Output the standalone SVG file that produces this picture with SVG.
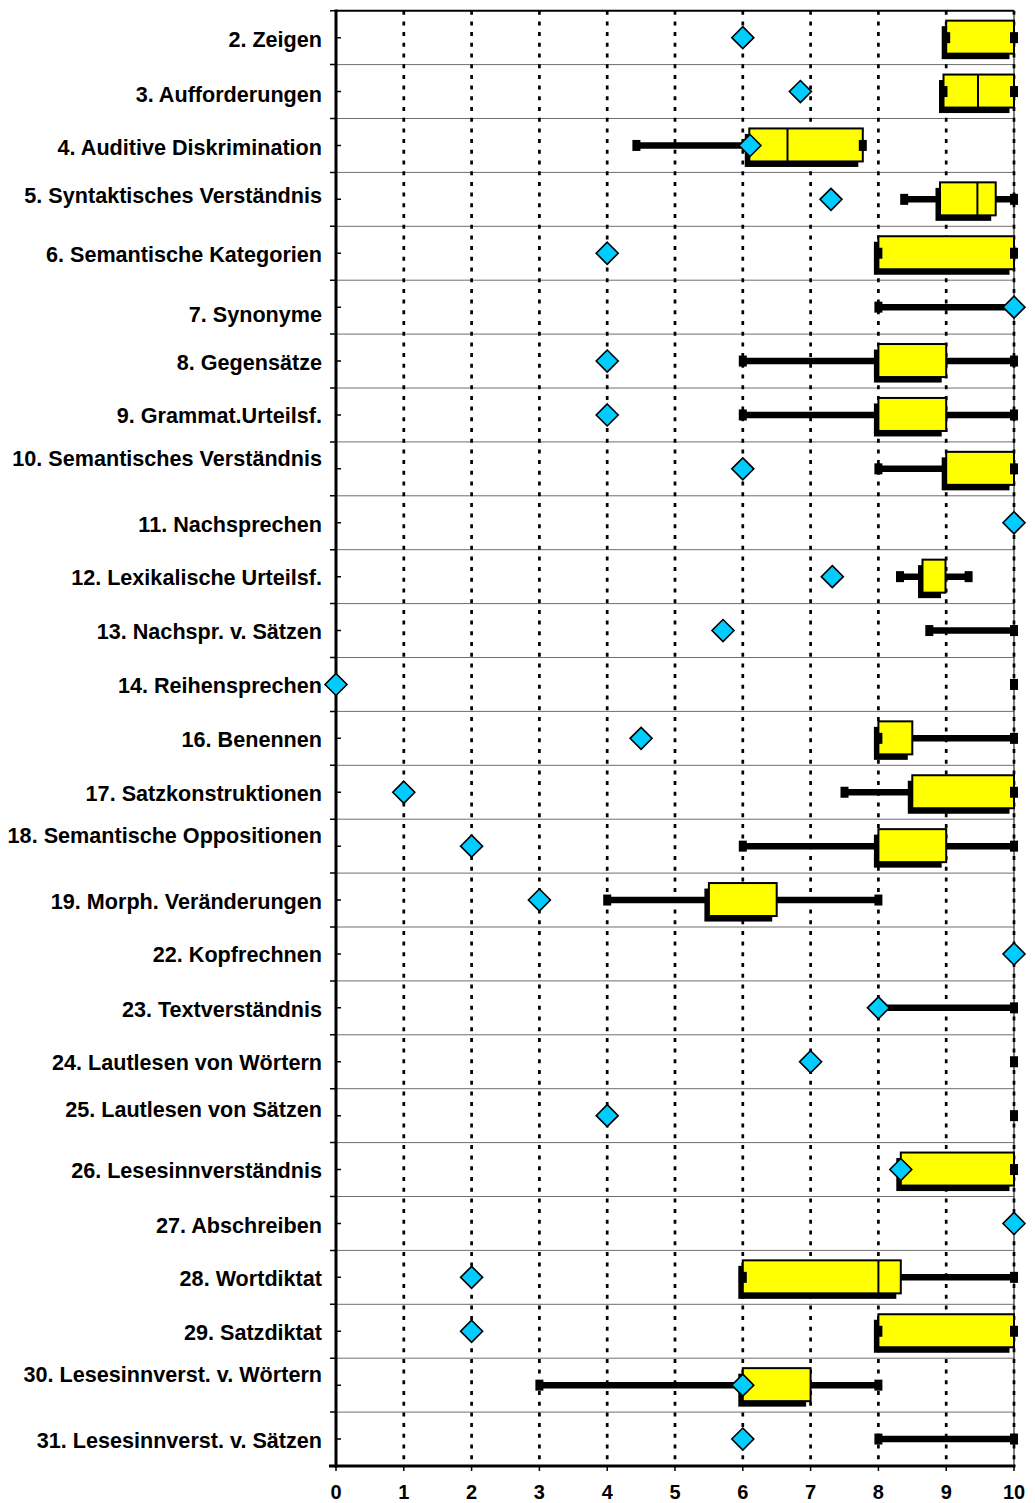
<svg xmlns="http://www.w3.org/2000/svg" xmlns:xlink="http://www.w3.org/1999/xlink" width="1035" height="1503" viewBox="0 0 1035 1503">
<style>
.lbl{font-family:"Liberation Sans",Arial,Helvetica,sans-serif;font-weight:bold;font-size:21.6px;text-anchor:end;fill:#000}
.num{font-family:"Liberation Sans",Arial,Helvetica,sans-serif;font-weight:bold;font-size:20px;text-anchor:middle;fill:#000}
.box{fill:#FFFF00;stroke:#000;stroke-width:2}
.sh{fill:#000}
.wh{stroke:#000;stroke-width:6.5;fill:none}
.med{stroke:#000;stroke-width:2}
.grid{stroke:#000;stroke-width:2.7;stroke-dasharray:4 6.7;fill:none}
.rowline{stroke:#6e6e6e;stroke-width:1}
.axis{stroke:#000;stroke-width:3}
.tick{stroke:#000;stroke-width:1.5}
</style>
<defs>
<path id="dia" d="M0,-11 L11,0 L0,11 L-11,0 Z" fill="#00CCFF" stroke="#000" stroke-width="1.6"/>
<rect id="cap" x="-4" y="-5.5" width="8" height="11" fill="#000"/>
</defs>
<rect x="0" y="0" width="1035" height="1503" fill="#fff"/>

<g id="frame">
<g id="rowlines">
<line class="rowline" x1="336" y1="64.6" x2="1014" y2="64.6"/>
<line class="rowline" x1="336" y1="118.5" x2="1014" y2="118.5"/>
<line class="rowline" x1="336" y1="172.4" x2="1014" y2="172.4"/>
<line class="rowline" x1="336" y1="226.3" x2="1014" y2="226.3"/>
<line class="rowline" x1="336" y1="280.2" x2="1014" y2="280.2"/>
<line class="rowline" x1="336" y1="334.1" x2="1014" y2="334.1"/>
<line class="rowline" x1="336" y1="388" x2="1014" y2="388"/>
<line class="rowline" x1="336" y1="441.9" x2="1014" y2="441.9"/>
<line class="rowline" x1="336" y1="495.8" x2="1014" y2="495.8"/>
<line class="rowline" x1="336" y1="549.7" x2="1014" y2="549.7"/>
<line class="rowline" x1="336" y1="603.6" x2="1014" y2="603.6"/>
<line class="rowline" x1="336" y1="657.5" x2="1014" y2="657.5"/>
<line class="rowline" x1="336" y1="711.4" x2="1014" y2="711.4"/>
<line class="rowline" x1="336" y1="765.3" x2="1014" y2="765.3"/>
<line class="rowline" x1="336" y1="819.2" x2="1014" y2="819.2"/>
<line class="rowline" x1="336" y1="873.1" x2="1014" y2="873.1"/>
<line class="rowline" x1="336" y1="927" x2="1014" y2="927"/>
<line class="rowline" x1="336" y1="980.9" x2="1014" y2="980.9"/>
<line class="rowline" x1="336" y1="1034.8" x2="1014" y2="1034.8"/>
<line class="rowline" x1="336" y1="1088.7" x2="1014" y2="1088.7"/>
<line class="rowline" x1="336" y1="1142.6" x2="1014" y2="1142.6"/>
<line class="rowline" x1="336" y1="1196.5" x2="1014" y2="1196.5"/>
<line class="rowline" x1="336" y1="1250.4" x2="1014" y2="1250.4"/>
<line class="rowline" x1="336" y1="1304.3" x2="1014" y2="1304.3"/>
<line class="rowline" x1="336" y1="1358.2" x2="1014" y2="1358.2"/>
<line class="rowline" x1="336" y1="1412.1" x2="1014" y2="1412.1"/>
</g>
<line x1="1014" y1="10.7" x2="1014" y2="1466" stroke="#000" stroke-width="1"/>
<g id="grid">
<line class="grid" x1="403.8" y1="10.7" x2="403.8" y2="1466"/>
<line class="grid" x1="471.6" y1="10.7" x2="471.6" y2="1466"/>
<line class="grid" x1="539.4" y1="10.7" x2="539.4" y2="1466"/>
<line class="grid" x1="607.2" y1="10.7" x2="607.2" y2="1466"/>
<line class="grid" x1="675" y1="10.7" x2="675" y2="1466"/>
<line class="grid" x1="742.8" y1="10.7" x2="742.8" y2="1466"/>
<line class="grid" x1="810.6" y1="10.7" x2="810.6" y2="1466"/>
<line class="grid" x1="878.4" y1="10.7" x2="878.4" y2="1466"/>
<line class="grid" x1="946.2" y1="10.7" x2="946.2" y2="1466"/>
<line class="grid" x1="1014" y1="10.7" x2="1014" y2="1466"/>
</g>
<line x1="336" y1="10.7" x2="1014" y2="10.7" stroke="#000" stroke-width="2"/>
<line class="axis" x1="336" y1="9.5" x2="336" y2="1467.5"/>
<line class="axis" x1="329" y1="1466" x2="1015.5" y2="1466"/>
<g id="yticks">
<path class="tick" d="M330,10.7H336M330,64.6H336M330,118.5H336M330,172.4H336M330,226.3H336M330,280.2H336M330,334.1H336M330,388H336M330,441.9H336M330,495.8H336M330,549.7H336M330,603.6H336M330,657.5H336M330,711.4H336M330,765.3H336M330,819.2H336M330,873.1H336M330,927H336M330,980.9H336M330,1034.8H336M330,1088.7H336M330,1142.6H336M330,1196.5H336M330,1250.4H336M330,1304.3H336M330,1358.2H336M330,1412.1H336"/>
<path class="tick" d="M336,37.65H341M336,91.55H341M336,145.45H341M336,199.35H341M336,253.25H341M336,307.15H341M336,361.05H341M336,414.95H341M336,468.85H341M336,522.75H341M336,576.65H341M336,630.55H341M336,684.45H341M336,738.35H341M336,792.25H341M336,846.15H341M336,900.05H341M336,953.95H341M336,1007.85H341M336,1061.75H341M336,1115.65H341M336,1169.55H341M336,1223.45H341M336,1277.35H341M336,1331.25H341M336,1385.15H341M336,1439.05H341"/>
</g>
<g id="xticks">
<path class="tick" stroke-width="2" d="M336,1466V1471M403.8,1466V1471M471.6,1466V1471M539.4,1466V1471M607.2,1466V1471M675,1466V1471M742.8,1466V1471M810.6,1466V1471M878.4,1466V1471M946.2,1466V1471M1014,1466V1471"/>
</g>
<g id="xlabels">
<text class="num" x="336" y="1499">0</text>
<text class="num" x="403.8" y="1499">1</text>
<text class="num" x="471.6" y="1499">2</text>
<text class="num" x="539.4" y="1499">3</text>
<text class="num" x="607.2" y="1499">4</text>
<text class="num" x="675" y="1499">5</text>
<text class="num" x="742.8" y="1499">6</text>
<text class="num" x="810.6" y="1499">7</text>
<text class="num" x="878.4" y="1499">8</text>
<text class="num" x="946.2" y="1499">9</text>
<text class="num" x="1014" y="1499">10</text>
</g>
</g>

<g id="row-02" transform="translate(0,37.65)">
<text class="lbl" x="322" y="9">2. Zeigen</text>
<rect class="sh" x="941.7" y="-11.5" width="67.8" height="33"/>
<rect class="box" x="946.2" y="-17" width="67.8" height="33"/>
<use xlink:href="#cap" x="946.2"/><use xlink:href="#cap" x="1014"/>
<use xlink:href="#dia" x="742.8"/>
</g>
<g id="row-03" transform="translate(0,91.55)">
<text class="lbl" x="322" y="10">3. Aufforderungen</text>
<rect class="sh" x="939" y="-11.5" width="70.5" height="33"/>
<rect class="box" x="943.5" y="-17" width="70.5" height="33"/>
<line class="med" x1="978" y1="-17" x2="978" y2="16"/>
<use xlink:href="#cap" x="943.5"/><use xlink:href="#cap" x="1014"/>
<use xlink:href="#dia" x="800.4"/>
</g>
<g id="row-04" transform="translate(0,145.45)">
<text class="lbl" x="322" y="9.5">4. Auditive Diskrimination</text>
<rect class="sh" x="744.8" y="-11.5" width="113.5" height="33"/>
<line class="wh" x1="636.4" y1="0" x2="862.8" y2="0"/>
<rect class="box" x="749.3" y="-17" width="113.5" height="33"/>
<line class="med" x1="787.5" y1="-17" x2="787.5" y2="16"/>
<use xlink:href="#cap" x="636.4"/><use xlink:href="#cap" x="862.8"/>
<use xlink:href="#dia" x="750"/>
</g>
<g id="row-05" transform="translate(0,199.35)">
<text class="lbl" x="322" y="4">5. Syntaktisches Verständnis</text>
<rect class="sh" x="935.5" y="-11.5" width="55.7" height="33"/>
<line class="wh" x1="904.2" y1="0" x2="1014" y2="0"/>
<rect class="box" x="940" y="-17" width="55.7" height="33"/>
<line class="med" x1="977.4" y1="-17" x2="977.4" y2="16"/>
<use xlink:href="#cap" x="904.2"/><use xlink:href="#cap" x="1014"/>
<use xlink:href="#dia" x="831"/>
</g>
<g id="row-06" transform="translate(0,253.25)">
<text class="lbl" x="322" y="9">6. Semantische Kategorien</text>
<rect class="sh" x="873.9" y="-11.5" width="135.6" height="33"/>
<rect class="box" x="878.4" y="-17" width="135.6" height="33"/>
<use xlink:href="#cap" x="878.4"/><use xlink:href="#cap" x="1014"/>
<use xlink:href="#dia" x="607.2"/>
</g>
<g id="row-07" transform="translate(0,307.15)">
<text class="lbl" x="322" y="14.5">7. Synonyme</text>
<line class="wh" x1="878.4" y1="0" x2="1014" y2="0"/>
<use xlink:href="#cap" x="878.4"/><use xlink:href="#cap" x="1014"/>
<use xlink:href="#dia" x="1014"/>
</g>
<g id="row-08" transform="translate(0,361.05)">
<text class="lbl" x="322" y="9">8. Gegensätze</text>
<rect class="sh" x="873.9" y="-11.5" width="67.8" height="33"/>
<line class="wh" x1="742.8" y1="0" x2="1014" y2="0"/>
<rect class="box" x="878.4" y="-17" width="67.8" height="33"/>
<use xlink:href="#cap" x="742.8"/><use xlink:href="#cap" x="1014"/>
<use xlink:href="#dia" x="607.2"/>
</g>
<g id="row-09" transform="translate(0,414.95)">
<text class="lbl" x="322" y="8.5">9. Grammat.Urteilsf.</text>
<rect class="sh" x="873.9" y="-11.5" width="67.8" height="33"/>
<line class="wh" x1="742.8" y1="0" x2="1014" y2="0"/>
<rect class="box" x="878.4" y="-17" width="67.8" height="33"/>
<use xlink:href="#cap" x="742.8"/><use xlink:href="#cap" x="1014"/>
<use xlink:href="#dia" x="607.2"/>
</g>
<g id="row-10" transform="translate(0,468.85)">
<text class="lbl" x="322" y="-2.5">10. Semantisches Verständnis</text>
<rect class="sh" x="941.7" y="-11.5" width="67.8" height="33"/>
<line class="wh" x1="878.4" y1="0" x2="1014" y2="0"/>
<rect class="box" x="946.2" y="-17" width="67.8" height="33"/>
<use xlink:href="#cap" x="878.4"/><use xlink:href="#cap" x="1014"/>
<use xlink:href="#dia" x="742.8"/>
</g>
<g id="row-11" transform="translate(0,522.75)">
<text class="lbl" x="322" y="9">11. Nachsprechen</text>
<use xlink:href="#cap" x="1014"/>
<use xlink:href="#dia" x="1014"/>
</g>
<g id="row-12" transform="translate(0,576.65)">
<text class="lbl" x="322" y="8.5">12. Lexikalische Urteilsf.</text>
<rect class="sh" x="918" y="-11.5" width="23" height="33"/>
<line class="wh" x1="900" y1="0" x2="968.6" y2="0"/>
<rect class="box" x="922.5" y="-17" width="23" height="33"/>
<use xlink:href="#cap" x="900"/><use xlink:href="#cap" x="968.6"/>
<use xlink:href="#dia" x="832.3"/>
</g>
<g id="row-13" transform="translate(0,630.55)">
<text class="lbl" x="322" y="8.5">13. Nachspr. v. Sätzen</text>
<line class="wh" x1="929.3" y1="0" x2="1014" y2="0"/>
<use xlink:href="#cap" x="929.3"/><use xlink:href="#cap" x="1014"/>
<use xlink:href="#dia" x="723"/>
</g>
<g id="row-14" transform="translate(0,684.45)">
<text class="lbl" x="322" y="8.5">14. Reihensprechen</text>
<use xlink:href="#cap" x="1014"/>
<use xlink:href="#dia" x="336"/>
</g>
<g id="row-16" transform="translate(0,738.35)">
<text class="lbl" x="322" y="8.5">16. Benennen</text>
<rect class="sh" x="873.9" y="-11.5" width="33.9" height="33"/>
<line class="wh" x1="912.3" y1="0" x2="1014" y2="0"/>
<rect class="box" x="878.4" y="-17" width="33.9" height="33"/>
<use xlink:href="#cap" x="878.4"/><use xlink:href="#cap" x="1014"/>
<use xlink:href="#dia" x="641.1"/>
</g>
<g id="row-17" transform="translate(0,792.25)">
<text class="lbl" x="322" y="9">17. Satzkonstruktionen</text>
<rect class="sh" x="907.8" y="-11.5" width="101.7" height="33"/>
<line class="wh" x1="844.5" y1="0" x2="1014" y2="0"/>
<rect class="box" x="912.3" y="-17" width="101.7" height="33"/>
<use xlink:href="#cap" x="844.5"/><use xlink:href="#cap" x="1014"/>
<use xlink:href="#dia" x="403.8"/>
</g>
<g id="row-18" transform="translate(0,846.15)">
<text class="lbl" x="322" y="-3">18. Semantische Oppositionen</text>
<rect class="sh" x="873.9" y="-11.5" width="67.8" height="33"/>
<line class="wh" x1="742.8" y1="0" x2="1014" y2="0"/>
<rect class="box" x="878.4" y="-17" width="67.8" height="33"/>
<use xlink:href="#cap" x="742.8"/><use xlink:href="#cap" x="1014"/>
<use xlink:href="#dia" x="471.6"/>
</g>
<g id="row-19" transform="translate(0,900.05)">
<text class="lbl" x="322" y="8.5">19. Morph. Veränderungen</text>
<rect class="sh" x="704.4" y="-11.5" width="67.8" height="33"/>
<line class="wh" x1="607.2" y1="0" x2="878.4" y2="0"/>
<rect class="box" x="708.9" y="-17" width="67.8" height="33"/>
<use xlink:href="#cap" x="607.2"/><use xlink:href="#cap" x="878.4"/>
<use xlink:href="#dia" x="539.4"/>
</g>
<g id="row-22" transform="translate(0,953.95)">
<text class="lbl" x="322" y="8.5">22. Kopfrechnen</text>
<use xlink:href="#cap" x="1014"/>
<use xlink:href="#dia" x="1014"/>
</g>
<g id="row-23" transform="translate(0,1007.85)">
<text class="lbl" x="322" y="9">23. Textverständnis</text>
<line class="wh" x1="878.4" y1="0" x2="1014" y2="0"/>
<use xlink:href="#cap" x="878.4"/><use xlink:href="#cap" x="1014"/>
<use xlink:href="#dia" x="878.4"/>
</g>
<g id="row-24" transform="translate(0,1061.75)">
<text class="lbl" x="322" y="8">24. Lautlesen von Wörtern</text>
<use xlink:href="#cap" x="1014"/>
<use xlink:href="#dia" x="810.6"/>
</g>
<g id="row-25" transform="translate(0,1115.65)">
<text class="lbl" x="322" y="1.5">25. Lautlesen von Sätzen</text>
<use xlink:href="#cap" x="1014"/>
<use xlink:href="#dia" x="607.2"/>
</g>
<g id="row-26" transform="translate(0,1169.55)">
<text class="lbl" x="322" y="8">26. Lesesinnverständnis</text>
<rect class="sh" x="896.3" y="-11.5" width="113.2" height="33"/>
<rect class="box" x="900.8" y="-17" width="113.2" height="33"/>
<use xlink:href="#cap" x="1014"/>
<use xlink:href="#dia" x="900.8"/>
</g>
<g id="row-27" transform="translate(0,1223.45)">
<text class="lbl" x="322" y="9.5">27. Abschreiben</text>
<use xlink:href="#cap" x="1014"/>
<use xlink:href="#dia" x="1014"/>
</g>
<g id="row-28" transform="translate(0,1277.35)">
<text class="lbl" x="322" y="9">28. Wortdiktat</text>
<rect class="sh" x="738.3" y="-11.5" width="158" height="33"/>
<line class="wh" x1="900.8" y1="0" x2="1014" y2="0"/>
<rect class="box" x="742.8" y="-17" width="158" height="33"/>
<line class="med" x1="878.4" y1="-17" x2="878.4" y2="16"/>
<use xlink:href="#cap" x="742.8"/><use xlink:href="#cap" x="1014"/>
<use xlink:href="#dia" x="471.6"/>
</g>
<g id="row-29" transform="translate(0,1331.25)">
<text class="lbl" x="322" y="9">29. Satzdiktat</text>
<rect class="sh" x="873.9" y="-11.5" width="135.6" height="33"/>
<rect class="box" x="878.4" y="-17" width="135.6" height="33"/>
<use xlink:href="#cap" x="878.4"/><use xlink:href="#cap" x="1014"/>
<use xlink:href="#dia" x="471.6"/>
</g>
<g id="row-30" transform="translate(0,1385.15)">
<text class="lbl" x="322" y="-3">30. Lesesinnverst. v. Wörtern</text>
<rect class="sh" x="738.3" y="-11.5" width="67.8" height="33"/>
<line class="wh" x1="539.4" y1="0" x2="878.4" y2="0"/>
<rect class="box" x="742.8" y="-17" width="67.8" height="33"/>
<use xlink:href="#cap" x="539.4"/><use xlink:href="#cap" x="878.4"/>
<use xlink:href="#dia" x="742.8"/>
</g>
<g id="row-31" transform="translate(0,1439.05)">
<text class="lbl" x="322" y="8.5">31. Lesesinnverst. v. Sätzen</text>
<line class="wh" x1="878.4" y1="0" x2="1014" y2="0"/>
<use xlink:href="#cap" x="878.4"/><use xlink:href="#cap" x="1014"/>
<use xlink:href="#dia" x="742.8"/>
</g>
</svg>
